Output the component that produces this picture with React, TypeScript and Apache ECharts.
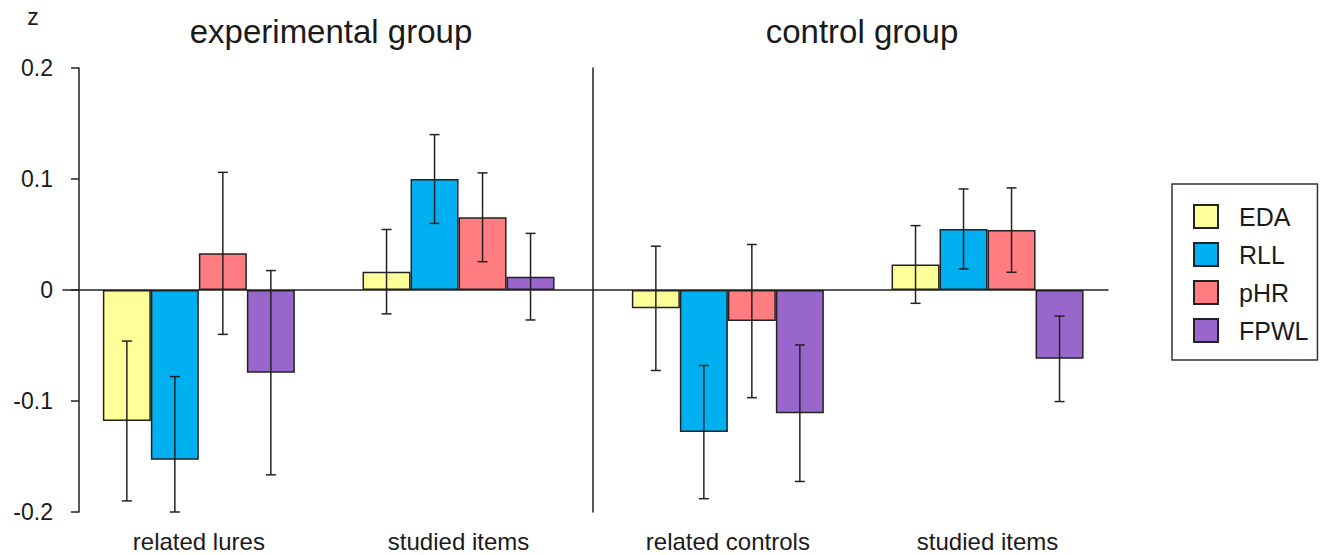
import React, { useEffect, useRef } from "react";
import * as echarts from "echarts";

const measures = ["EDA", "RLL", "pHR", "FPWL"];
const leftCategories = ["related lures", "studied items"];
const rightCategories = ["related controls", "studied items"];
const yTicks = [-0.2, -0.1, 0, 0.1, 0.2];

// experimental group: [related lures, studied items]
const expEDA = [-0.118, 0.0165];
const expRLL = [-0.153, 0.1];
const expPHR = [0.033, 0.0655];
const expFPWL = [-0.0745, 0.012];
const expErrEDA = [0.072, 0.038];
const expErrRLL = [0.075, 0.04];
const expErrPHR = [0.073, 0.04];
const expErrFPWL = [0.092, 0.039];

// control group: [related controls, studied items]
const ctlEDA = [-0.0165, 0.023];
const ctlRLL = [-0.128, 0.055];
const ctlPHR = [-0.028, 0.054];
const ctlFPWL = [-0.111, -0.062];
const ctlErrEDA = [0.056, 0.035];
const ctlErrRLL = [0.06, 0.036];
const ctlErrPHR = [0.069, 0.038];
const ctlErrFPWL = [0.0615, 0.0385];

const colors = ["#FFFF99", "#00B0F0", "#FF7C80", "#9966CC"];
const FONT = "'Liberation Sans', Arial, Helvetica, sans-serif";
const TEXT = "#1a1a1a";
const LINE = "#222";
const BAR_W = 48;

export default function App() {
  const ref = useRef<HTMLDivElement>(null);
  useEffect(() => {
    if (!ref.current) return;
    const chart = echarts.init(ref.current, null, { renderer: "svg" });
    const expVals = [expEDA, expRLL, expPHR, expFPWL];
    const expErrs = [expErrEDA, expErrRLL, expErrPHR, expErrFPWL];
    const ctlVals = [ctlEDA, ctlRLL, ctlPHR, ctlFPWL];
    const ctlErrs = [ctlErrEDA, ctlErrRLL, ctlErrPHR, ctlErrFPWL];
    const yMin = yTicks[0];
    const yMax = yTicks[yTicks.length - 1];

    const errData = (vals: number[][], errs: number[][]) => {
      const out: number[][] = [];
      vals.forEach((arr, k) =>
        arr.forEach((v, c) => out.push([c, v - errs[k][c], v + errs[k][c], k]))
      );
      return out;
    };

    const renderErr = (params: any, api: any) => {
      const c = api.value(0);
      const lo = Math.max(api.value(1), yMin);
      const hi = Math.min(api.value(2), yMax);
      const k = api.value(3);
      const top = api.coord([c, hi]);
      const bot = api.coord([c, lo]);
      const x = top[0] + (k - 1.5) * BAR_W;
      const cap = 5;
      const style = { stroke: LINE, lineWidth: 1.5 };
      return {
        type: "group",
        children: [
          { type: "line", shape: { x1: x, y1: top[1], x2: x, y2: bot[1] }, style },
          { type: "line", shape: { x1: x - cap, y1: top[1], x2: x + cap, y2: top[1] }, style },
          { type: "line", shape: { x1: x - cap, y1: bot[1], x2: x + cap, y2: bot[1] }, style },
        ],
      };
    };

    const barSeries = (vals: number[][], gi: number) =>
      measures.map((m, k) => ({
        name: m,
        type: "bar",
        xAxisIndex: gi,
        yAxisIndex: gi,
        data: vals[k],
        barWidth: BAR_W,
        barGap: "0%",
        itemStyle: { color: colors[k], borderColor: LINE, borderWidth: 1.5 },
        z: 2,
      }));

    const yBase = {
      type: "value",
      min: yMin,
      max: yMax,
      interval: 0.1,
      splitLine: { show: false },
    };

    const gridBase = { top: 68, height: 444, outerBoundsMode: "none", containLabel: false };
    const catLabel = { fontSize: 24, margin: 17, color: TEXT, fontFamily: FONT };

    const option: any = {
      animation: false,
      backgroundColor: "#ffffff",
      textStyle: { fontFamily: FONT, color: TEXT },
      grid: [
        { ...gridBase, left: 69, width: 519.4 },
        { ...gridBase, left: 598, width: 519.4 },
        { ...gridBase, left: 63, width: 1045 },
      ],
      xAxis: [
        {
          type: "category",
          gridIndex: 0,
          data: leftCategories,
          axisLine: { show: false, onZero: false },
          axisTick: { show: false },
          axisLabel: catLabel,
        },
        {
          type: "category",
          gridIndex: 1,
          data: rightCategories,
          axisLine: { show: false, onZero: false },
          axisTick: { show: false },
          axisLabel: catLabel,
        },
        {
          type: "value",
          gridIndex: 2,
          min: 0,
          max: 1,
          axisLine: { show: true, onZero: true, lineStyle: { color: LINE, width: 1.5 } },
          axisTick: { show: false },
          axisLabel: { show: false },
          splitLine: { show: false },
        },
      ],
      yAxis: [
        {
          ...yBase,
          gridIndex: 0,
          offset: -10,
          axisLine: { show: true, lineStyle: { color: LINE, width: 1.5 } },
          axisTick: { show: true, length: 8, lineStyle: { color: LINE, width: 1.5 } },
          axisLabel: { fontSize: 23, margin: 26, color: TEXT, fontFamily: FONT },
        },
        {
          ...yBase,
          gridIndex: 1,
          offset: 5,
          axisLine: { show: true, lineStyle: { color: LINE, width: 1.5 } },
          axisTick: { show: false },
          axisLabel: { show: false },
        },
        {
          ...yBase,
          gridIndex: 2,
          show: false,
        },
      ],
      legend: {
        data: measures,
        orient: "vertical",
        left: 1172,
        top: 184,
        icon: "rect",
        itemWidth: 24,
        itemHeight: 23,
        itemGap: 13,
        padding: [20, 9, 17, 21],
        borderColor: "#333",
        borderWidth: 1.5,
        selectedMode: false,
        textStyle: { fontSize: 25, color: TEXT, fontFamily: FONT, padding: [0, 0, 0, 16] },
      },
      graphic: [
        {
          type: "text",
          x: 331,
          y: 31,
          style: { text: "experimental group", font: `33px ${FONT}`, fill: TEXT, textAlign: "center", textVerticalAlign: "middle" },
        },
        {
          type: "text",
          x: 862,
          y: 31,
          style: { text: "control group", font: `33px ${FONT}`, fill: TEXT, textAlign: "center", textVerticalAlign: "middle" },
        },
        {
          type: "text",
          x: 33,
          y: 17,
          style: { text: "z", font: `23px ${FONT}`, fill: TEXT, textAlign: "center", textVerticalAlign: "middle" },
        },
      ],
      series: [
        ...barSeries(expVals, 0),
        ...barSeries(ctlVals, 1),
        {
          type: "custom",
          xAxisIndex: 0,
          yAxisIndex: 0,
          renderItem: renderErr,
          data: errData(expVals, expErrs),
          encode: { x: 0, y: [1, 2] },
          z: 5,
          silent: true,
        },
        {
          type: "custom",
          xAxisIndex: 1,
          yAxisIndex: 1,
          renderItem: renderErr,
          data: errData(ctlVals, ctlErrs),
          encode: { x: 0, y: [1, 2] },
          z: 5,
          silent: true,
        },
      ],
    };
    chart.setOption(option);
    return () => chart.dispose();
  }, []);
  return (
    <div
      ref={ref}
      style={{ position: "fixed", left: 0, top: 0, width: 1325, height: 555, background: "#fff" }}
    />
  );
}
